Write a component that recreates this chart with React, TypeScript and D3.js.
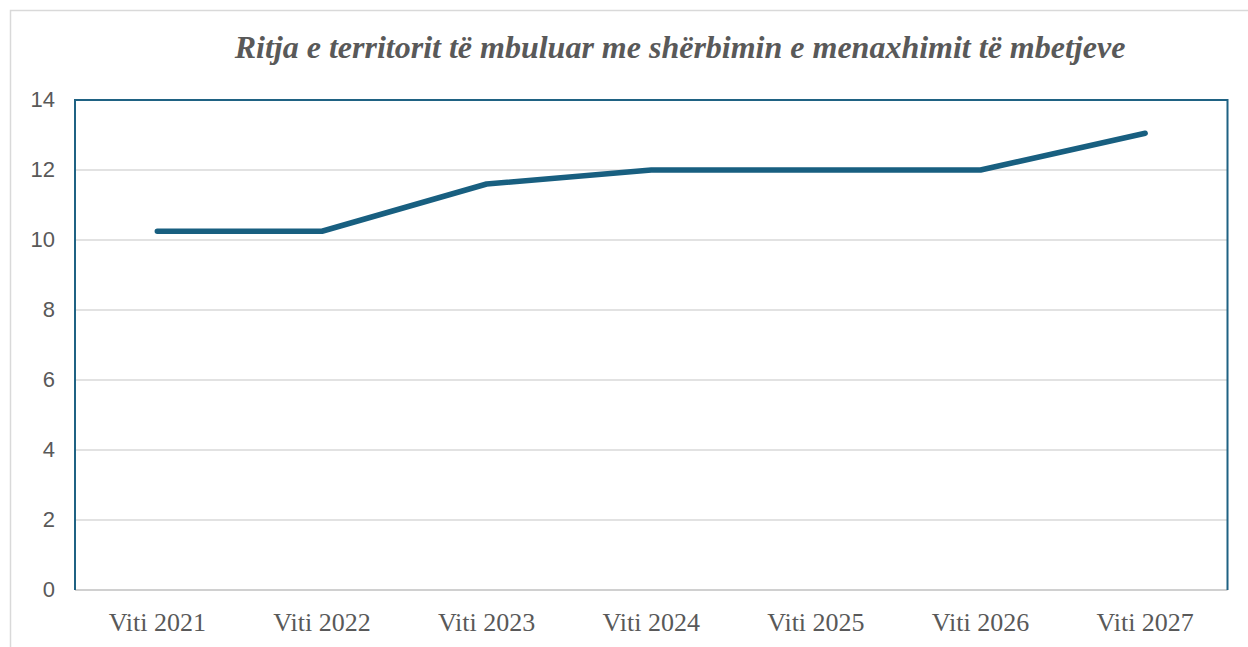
import React, { useEffect, useRef } from 'react';
import * as d3 from 'd3';

const categories = ['Viti 2021', 'Viti 2022', 'Viti 2023', 'Viti 2024', 'Viti 2025', 'Viti 2026', 'Viti 2027'];
const values = [10.25, 10.25, 11.6, 12, 12, 12, 13.05];
const yTicks = [0, 2, 4, 6, 8, 10, 12, 14];
const title = 'Ritja e territorit të mbuluar me shërbimin e menaxhimit të mbetjeve';

const width = 1248;
const height = 647;
const margin = { top: 100, right: 20.5, bottom: 57, left: 75 };

export default function App() {
  const ref = useRef<SVGSVGElement>(null);

  useEffect(() => {
    const svg = d3.select(ref.current);
    svg.selectAll('*').remove();

    const x = d3
      .scaleBand()
      .domain(categories)
      .range([margin.left, width - margin.right]);

    const y = d3
      .scaleLinear()
      .domain([0, 14])
      .range([height - margin.bottom, margin.top]);

    // outer frame
    svg
      .append('rect')
      .attr('x', 10.5)
      .attr('y', 10.5)
      .attr('width', width + 20)
      .attr('height', height + 20)
      .attr('fill', '#fff')
      .attr('stroke', '#d9d9d9')
      .attr('stroke-width', 1.5);

    svg
      .append('text')
      .attr('x', 680)
      .attr('y', 58)
      .attr('text-anchor', 'middle')
      .style('font-family', '"Liberation Serif", "Times New Roman", serif')
      .style('font-style', 'italic')
      .style('font-weight', 'bold')
      .style('font-size', '32px')
      .attr('fill', '#595959')
      .text(title);

    // gridlines
    svg
      .append('g')
      .selectAll('line')
      .data(yTicks.filter((t) => t > 0 && t < 14))
      .join('line')
      .attr('x1', margin.left)
      .attr('x2', width - margin.right)
      .attr('y1', (d) => y(d))
      .attr('y2', (d) => y(d))
      .attr('stroke', '#d9d9d9')
      .attr('stroke-width', 1.5);

    // x axis line
    svg
      .append('line')
      .attr('x1', margin.left)
      .attr('x2', width - margin.right)
      .attr('y1', y(0))
      .attr('y2', y(0))
      .attr('stroke', '#d0d0d0')
      .attr('stroke-width', 2);

    // plot area border (top, left, right)
    const yTop = y(14);
    const yBot = y(0);
    svg
      .append('path')
      .attr(
        'd',
        `M${margin.left},${yBot}V${yTop}H${width - margin.right}V${yBot}`
      )
      .attr('fill', 'none')
      .attr('stroke', '#1f6283')
      .attr('stroke-width', 2);

    // y tick labels
    svg
      .append('g')
      .selectAll('text')
      .data(yTicks)
      .join('text')
      .attr('x', 55)
      .attr('y', (d) => y(d) - 1)
      .attr('dy', '0.35em')
      .attr('text-anchor', 'end')
      .style('font-family', '"Liberation Sans", Arial, sans-serif')
      .style('font-size', '22px')
      .attr('fill', '#595959')
      .text((d) => d);

    // x labels
    svg
      .append('g')
      .selectAll('text')
      .data(categories)
      .join('text')
      .attr('x', (d) => (x(d) as number) + x.bandwidth() / 2)
      .attr('y', 631)
      .attr('text-anchor', 'middle')
      .style('font-family', '"Liberation Serif", "Times New Roman", serif')
      .style('font-size', '26px')
      .attr('fill', '#595959')
      .text((d) => d);

    const line = d3
      .line<number>()
      .x((d, i) => (x(categories[i]) as number) + x.bandwidth() / 2)
      .y((d) => y(d));

    svg
      .append('path')
      .datum(values)
      .attr('d', line)
      .attr('fill', 'none')
      .attr('stroke', '#185f80')
      .attr('stroke-width', 5.5)
      .attr('stroke-linecap', 'round')
      .attr('stroke-linejoin', 'round');
  }, []);

  return (
    <svg
      ref={ref}
      width={width}
      height={height}
      style={{ position: 'absolute', left: 0, top: 0 }}
    />
  );
}
